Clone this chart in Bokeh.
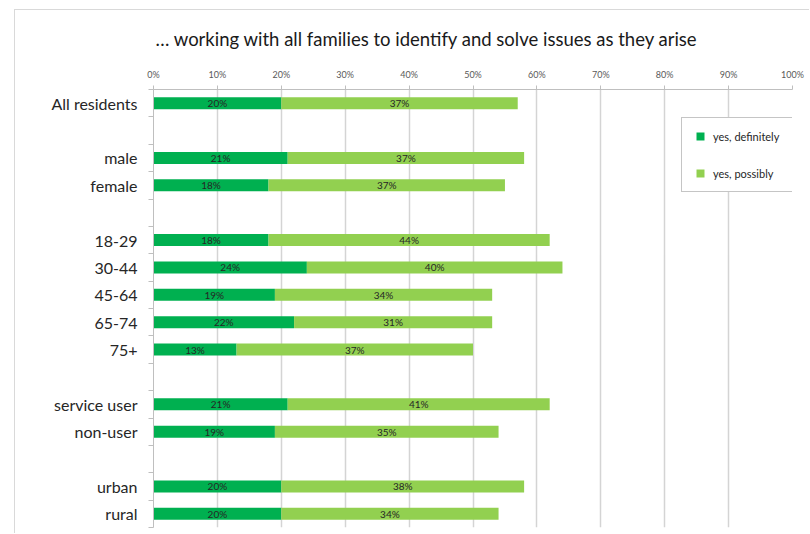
from bokeh.plotting import figure
from bokeh.models import (ColumnDataSource, Range1d, FixedTicker,
                          Legend, LegendItem, LabelSet)
from bokeh.core.properties import value
from bokeh.embed import file_html
from bokeh.resources import INLINE

# ---- data ----
rows = ["All residents", "", "male", "female", "", "18-29", "30-44", "45-64",
        "65-74", "75+", "", "service user", "non-user", "", "urban", "rural"]
categories = ["All residents", "male", "female", "18-29", "30-44", "45-64",
              "65-74", "75+", "service user", "non-user", "urban", "rural"]
definitely = [20, 21, 18, 18, 24, 19, 22, 13, 21, 19, 20, 20]
possibly = [37, 37, 37, 44, 40, 34, 31, 37, 41, 35, 38, 34]
x_ticks = [0, 10, 20, 30, 40, 50, 60, 70, 80, 90, 100]
x_tick_labels = [f"{t}%" for t in x_ticks]
title_text = "\u2026 working with all families to identify and solve issues as they arise"

DARK = "#00b050"
LIGHT = "#92d050"
FONT = "Lato"

ypos = [rows.index(c) + 0.5 for c in categories]
boundaries = list(range(len(rows) + 1))

src = ColumnDataSource(dict(
    y=ypos,
    d_end=definitely,
    p_end=[a + b for a, b in zip(definitely, possibly)],
    d_mid=[a / 2 for a in definitely],
    p_mid=[a + b / 2 for a, b in zip(definitely, possibly)],
    d_lab=[f"{a}%" for a in definitely],
    p_lab=[f"{b}%" for b in possibly],
))

p = figure(width=795, height=524, output_backend="svg", toolbar_location=None,
           x_range=Range1d(0, 100), y_range=Range1d(len(rows), 0),
           x_axis_location="above",
           min_border_left=138, min_border_right=18, min_border_top=77,
           min_border_bottom=7, margin=(9, 0, 0, 14),
           styles={"border-left": "1px solid #d9d9d9",
                   "border-top": "1px solid #d9d9d9"})
p.outline_line_color = None
p.background_fill_color = "white"
p.border_fill_color = "white"

p.title.text = title_text
p.title.text_font = FONT
p.title.text_font_size = "18.5px"
p.title.text_font_style = "normal"
p.title.text_color = "#1a1a1a"
p.title.align = "left"
p.title.offset = 2
p.title.standoff = 31

p.hbar(y="y", left=0, right="d_end", height=0.44, source=src,
       fill_color=DARK, line_color=None)
p.hbar(y="y", left="d_end", right="p_end", height=0.44, source=src,
       fill_color=LIGHT, line_color=None)

for xcol, tcol in (("d_mid", "d_lab"), ("p_mid", "p_lab")):
    p.add_layout(LabelSet(x=xcol, y="y", text=tcol, source=src,
                          text_align="center", text_baseline="middle",
                          text_font=value(FONT), text_font_size="10px",
                          text_color="#262626"))

xa = p.xaxis[0]
xa.ticker = FixedTicker(ticks=x_ticks)
xa.major_label_overrides = {t: l for t, l in zip(x_ticks, x_tick_labels)}
xa.major_label_text_font = FONT
xa.major_label_text_font_size = "9px"
xa.major_label_text_color = "#595959"
xa.axis_line_color = "#bfbfbf"
xa.major_tick_line_color = "#bfbfbf"
xa.major_tick_out = 4
xa.major_tick_in = 0
xa.minor_tick_line_color = None
xa.major_label_standoff = 6

ya = p.yaxis[0]
ya.ticker = FixedTicker(ticks=ypos, minor_ticks=boundaries)
ya.major_label_overrides = {y: c for y, c in zip(ypos, categories)}
ya.major_label_text_font = FONT
ya.major_label_text_font_size = "16px"
ya.major_label_text_color = "#262626"
ya.axis_line_color = "#bfbfbf"
ya.major_tick_line_color = None
ya.major_tick_out = 0
ya.major_tick_in = 0
ya.minor_tick_line_color = "#bfbfbf"
ya.minor_tick_out = 5
ya.minor_tick_in = 0
ya.major_label_standoff = 11

p.xgrid.ticker = FixedTicker(ticks=x_ticks[1:])
p.xgrid.grid_line_color = "#d4d4d4"
p.xgrid.grid_line_width = 1.5
p.ygrid.grid_line_color = None

# legend renderers: one off-range point each (clipped away)
off = ColumnDataSource(dict(x=[-50], y=[-50]))
r1 = p.scatter("x", "y", source=off, marker="square", size=8,
               fill_color=DARK, line_color=None)
r2 = p.scatter("x", "y", source=off, marker="square", size=8,
               fill_color=LIGHT, line_color=None)
legend = Legend(items=[LegendItem(label="yes, definitely", renderers=[r1]),
                       LegendItem(label="yes, possibly", renderers=[r2])],
                location=(528, 335), orientation="vertical")
legend.glyph_width = 20
legend.glyph_height = 20
legend.label_height = 20
legend.label_standoff = 3
legend.label_width = 81
legend.spacing = 17
legend.padding = 8
legend.margin = 0
legend.label_text_font = FONT
legend.label_text_font_size = "11px"
legend.label_text_color = "#262626"
legend.border_line_color = "#8c8c8c"
legend.border_line_width = 1
legend.background_fill_color = "white"
legend.background_fill_alpha = 1
p.add_layout(legend)

open("out.html", "w").write(file_html(p, INLINE))
